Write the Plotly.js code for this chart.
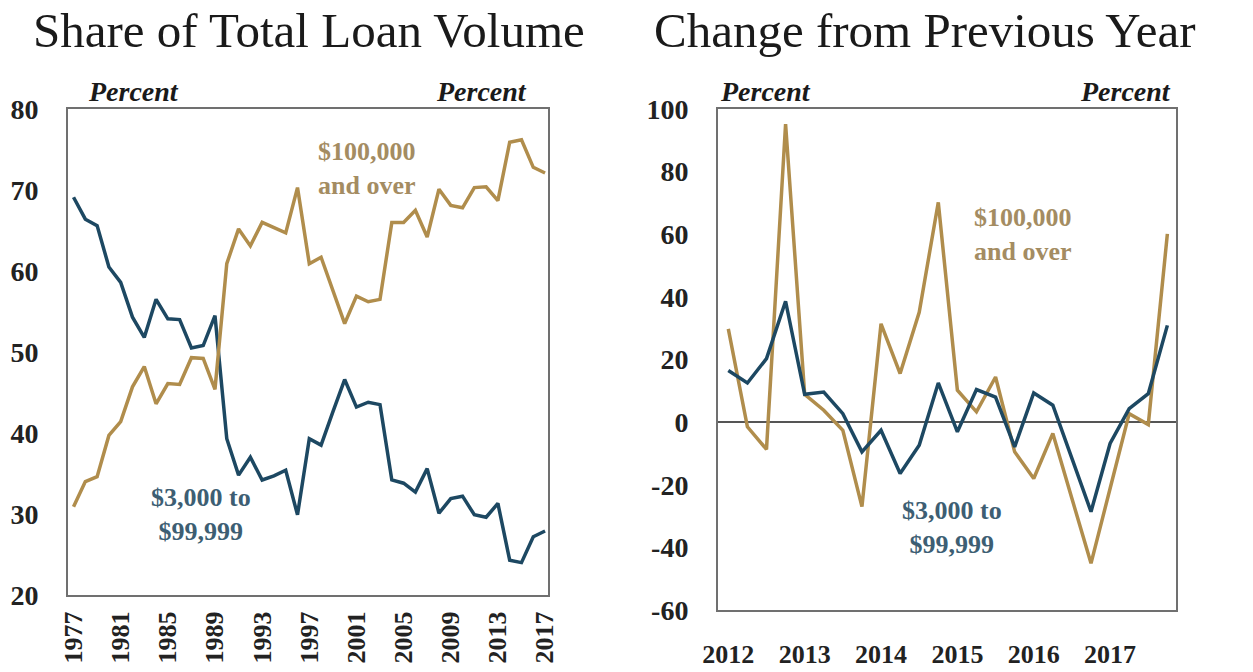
<!DOCTYPE html>
<html>
<head>
<meta charset="utf-8">
<script src="https://cdn.plot.ly/plotly-3.0.1.min.js"></script>
<style>html,body{margin:0;padding:0;background:#fff;}#chart{width:1253px;height:672px;}</style>
</head>
<body>
<div id="chart"></div>
<script>
// ---- Data ----
const years = [1977,1978,1979,1980,1981,1982,1983,1984,1985,1986,
               1987,1988,1989,1990,1991,1992,1993,1994,1995,1996,
               1997,1998,1999,2000,2001,2002,2003,2004,2005,2006,
               2007,2008,2009,2010,2011,2012,2013,2014,2015,2016,2017];
const shareSmall = [69.1,66.4,65.6,60.5,58.6,54.3,51.8,56.5,54.1,54.0,
                    50.5,50.8,54.5,39.3,34.8,37.0,34.2,34.7,35.4,29.9,
                    39.3,38.5,42.6,46.6,43.2,43.8,43.5,34.2,33.8,32.7,
                    35.6,30.1,31.9,32.2,29.9,29.6,31.3,24.3,24.0,27.2,27.9];
const shareLarge = [30.9,34.0,34.6,39.7,41.4,45.7,48.2,43.6,46.1,46.0,
                    49.3,49.2,45.4,60.9,65.2,63.1,66.0,65.4,64.7,70.3,
                    60.9,61.7,57.6,53.5,56.9,56.2,56.5,66.0,66.0,67.5,
                    64.2,70.1,68.1,67.8,70.3,70.4,68.7,75.9,76.2,72.8,72.1];
const yearTicks = [1977,1981,1985,1989,1993,1997,2001,2005,2009,2013,2017];
const shareTicks = [20,30,40,50,60,70,80];

const quarters = [2012.00,2012.25,2012.50,2012.75,2013.00,2013.25,2013.50,2013.75,
                  2014.00,2014.25,2014.50,2014.75,2015.00,2015.25,2015.50,2015.75,
                  2016.00,2016.25,2016.50,2016.75,2017.00,2017.25,2017.50,2017.75];
const chgSmall = [16.5,12.5,20.3,38.6,8.9,9.6,2.7,-9.5,-2.6,-16.4,-7.4,12.5,
                  -3.1,10.4,8.0,-7.9,9.3,5.4,-11.6,-28.6,-6.8,4.3,9.1,30.9];
const chgLarge = [29.8,-1.5,-8.7,95.2,8.9,3.8,-2.6,-27.0,31.4,15.5,35.1,70.2,
                  10.2,3.3,14.4,-9.5,-18.0,-3.6,-24.4,-45.1,-21.2,2.7,-0.8,60.1];
const quarterTicks = [2012,2013,2014,2015,2016,2017];
const chgTicks = [-60,-40,-20,0,20,40,60,80,100];

// ---- Styles ----
const BLUE = '#1d4862';
const GOLD = '#b08d4c';
const BLUE_TXT = '#3d5e73';
const GOLD_TXT = '#a48c62';
const SERIF = 'Liberation Serif, Times New Roman, serif';
const W = 1253, H = 672;
const px = v => v / W;
const py = v => 1 - v / H;

const yTickFont = {family: SERIF, size: 28, color: '#222', weight: 'bold'};
const xTickFont = {family: SERIF, size: 26, color: '#222', weight: 'bold'};

const traces = [
  {x: years, y: shareSmall, xaxis: 'x', yaxis: 'y', type: 'scatter', mode: 'lines',
   line: {color: BLUE, width: 3.5}, hoverinfo: 'x+y'},
  {x: years, y: shareLarge, xaxis: 'x', yaxis: 'y', type: 'scatter', mode: 'lines',
   line: {color: GOLD, width: 3.5}, hoverinfo: 'x+y'},
  {x: quarters, y: chgLarge, xaxis: 'x2', yaxis: 'y2', type: 'scatter', mode: 'lines',
   line: {color: GOLD, width: 3.5}, hoverinfo: 'x+y'},
  {x: quarters, y: chgSmall, xaxis: 'x2', yaxis: 'y2', type: 'scatter', mode: 'lines',
   line: {color: BLUE, width: 3.5}, hoverinfo: 'x+y'}
];

const boxLine = {showline: true, mirror: true, linecolor: '#707070', linewidth: 2};

const layout = {
  width: W, height: H,
  margin: {l: 0, r: 0, t: 0, b: 0},
  paper_bgcolor: '#fff', plot_bgcolor: '#fff',
  showlegend: false,
  xaxis: Object.assign({
    domain: [px(68), px(548)], range: [1976.53, 2017.25], anchor: 'y',
    tickmode: 'array', tickvals: yearTicks, ticktext: yearTicks.map(String),
    tickangle: -90, ticks: '', ticklabelstandoff: 4, showgrid: false, zeroline: false,
    tickfont: xTickFont
  }, boxLine),
  yaxis: Object.assign({
    domain: [py(595), py(109)], range: [20, 80], anchor: 'x',
    tickmode: 'array', tickvals: shareTicks, ticktext: shareTicks.map(String),
    ticks: '', ticklabelstandoff: 22,
    showgrid: false, zeroline: false, tickfont: yTickFont
  }, boxLine),
  yaxis3: {
    overlaying: 'y', side: 'right', anchor: 'x', range: [20, 80],
    tickmode: 'array', tickvals: shareTicks, ticktext: shareTicks.map(String),
    ticks: '', ticklabelstandoff: 22,
    showgrid: false, zeroline: false, showline: false, tickfont: yTickFont
  },
  xaxis2: Object.assign({
    domain: [px(718), px(1176)], range: [2011.865, 2017.863], anchor: 'y2',
    tickmode: 'array', tickvals: quarterTicks, ticktext: quarterTicks.map(String),
    ticks: '', ticklabelstandoff: 20, showgrid: false, zeroline: false,
    tickfont: xTickFont
  }, boxLine),
  yaxis2: Object.assign({
    domain: [py(610), py(109)], range: [-60, 100], anchor: 'x2',
    tickmode: 'array', tickvals: chgTicks, ticktext: chgTicks.map(String),
    ticks: '', ticklabelstandoff: 22,
    showgrid: false, zeroline: true, zerolinecolor: '#555', zerolinewidth: 1.5,
    tickfont: yTickFont
  }, boxLine),
  yaxis4: {
    overlaying: 'y2', side: 'right', anchor: 'x2', range: [-60, 100],
    tickmode: 'array', tickvals: chgTicks, ticktext: chgTicks.map(String),
    ticks: '', ticklabelstandoff: 22,
    showgrid: false, zeroline: false, showline: false, tickfont: yTickFont
  },
  annotations: [
    {text: 'Share of Total Loan Volume', xref: 'paper', yref: 'paper', x: px(309), y: py(31),
     xanchor: 'center', yanchor: 'middle', showarrow: false,
     font: {family: SERIF, size: 49, color: '#1a1a1a'}},
    {text: 'Change from Previous Year', xref: 'paper', yref: 'paper', x: px(925), y: py(31),
     xanchor: 'center', yanchor: 'middle', showarrow: false,
     font: {family: SERIF, size: 49, color: '#1a1a1a'}},
    {text: 'Percent', xref: 'paper', yref: 'paper', x: px(86), y: py(92), xanchor: 'left', yanchor: 'middle',
     showarrow: false, font: {family: SERIF, size: 28, color: '#1a1a1a', style: 'italic', weight: 'bold'}},
    {text: 'Percent', xref: 'paper', yref: 'paper', x: px(529), y: py(92), xanchor: 'right', yanchor: 'middle',
     showarrow: false, font: {family: SERIF, size: 28, color: '#1a1a1a', style: 'italic', weight: 'bold'}},
    {text: 'Percent', xref: 'paper', yref: 'paper', x: px(718), y: py(92), xanchor: 'left', yanchor: 'middle',
     showarrow: false, font: {family: SERIF, size: 28, color: '#1a1a1a', style: 'italic', weight: 'bold'}},
    {text: 'Percent', xref: 'paper', yref: 'paper', x: px(1173), y: py(92), xanchor: 'right', yanchor: 'middle',
     showarrow: false, font: {family: SERIF, size: 28, color: '#1a1a1a', style: 'italic', weight: 'bold'}},
    {text: '$100,000<br>and over', xref: 'paper', yref: 'paper', x: px(367), y: py(168), xanchor: 'center', yanchor: 'middle',
     showarrow: false, font: {family: SERIF, size: 26, color: GOLD_TXT, weight: 'bold'}},
    {text: '$3,000 to<br>$99,999', xref: 'paper', yref: 'paper', x: px(201), y: py(514), xanchor: 'center', yanchor: 'middle',
     showarrow: false, font: {family: SERIF, size: 26, color: BLUE_TXT, weight: 'bold'}},
    {text: '$100,000<br>and over', xref: 'paper', yref: 'paper', x: px(1023), y: py(234), xanchor: 'center', yanchor: 'middle',
     showarrow: false, font: {family: SERIF, size: 26, color: GOLD_TXT, weight: 'bold'}},
    {text: '$3,000 to<br>$99,999', xref: 'paper', yref: 'paper', x: px(952), y: py(527), xanchor: 'center', yanchor: 'middle',
     showarrow: false, font: {family: SERIF, size: 26, color: BLUE_TXT, weight: 'bold'}}
  ]
};

Plotly.newPlot('chart', traces, layout, {displayModeBar: false, staticPlot: true});
</script>
</body>
</html>
